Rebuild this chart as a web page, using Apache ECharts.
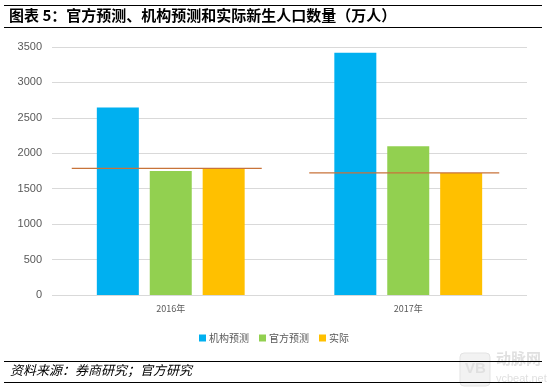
<!DOCTYPE html>
<html><head><meta charset="utf-8">
<script src="https://cdn.jsdelivr.net/npm/echarts@6/dist/echarts.min.js"></script>
<style>html,body{margin:0;padding:0;background:#fff}#c{width:548px;height:391px}</style>
</head><body><div id="c"></div>
<script>
var categories = ['2016年', '2017年'];
var seriesNames = ['机构预测', '官方预测', '实际'];
var institutionForecast = [2645, 3420];
var officialForecast = [1750, 2100];
var actualBirths = [1786, 1723];
var refLine = [1786, 1723];
var yTicks = [0, 500, 1000, 1500, 2000, 2500, 3000, 3500];

var chart = echarts.init(document.getElementById('c'));
var labelColor = '#595959';
chart.setOption({
  animation: false,
  textStyle: {fontFamily: '"Noto Sans CJK SC", "Liberation Sans", sans-serif'},
  grid: {left: 52, right: 21, top: 47, bottom: 96},
  legend: {
    data: seriesNames, left: 'center', top: 328,
    itemWidth: 7, itemHeight: 7, itemGap: 10, icon: 'rect',
    textStyle: {fontSize: 10, color: labelColor, padding: [0, 0, 0, -2]}
  },
  xAxis: {
    type: 'category', data: categories,
    axisLine: {show: false}, axisTick: {show: false},
    axisLabel: {fontSize: 9, color: labelColor, margin: 9}
  },
  yAxis: {
    type: 'value', min: yTicks[0], max: yTicks[yTicks.length - 1], interval: 500,
    axisLine: {show: false}, axisTick: {show: false},
    axisLabel: {fontSize: 11, color: labelColor, margin: 10, fontFamily: '"Liberation Sans", sans-serif',
      formatter: function (v) { return String(v); }},
    splitLine: {lineStyle: {color: '#D9D9D9', width: 1}}
  },
  series: [
    {name: seriesNames[0], type: 'bar', data: institutionForecast, barWidth: 42, barGap: '26%', itemStyle: {color: '#00B0F0'}},
    {name: seriesNames[1], type: 'bar', data: officialForecast, barWidth: 42, itemStyle: {color: '#92D050'}},
    {name: seriesNames[2], type: 'bar', data: actualBirths, barWidth: 42, itemStyle: {color: '#FFC000'}},
    {
      type: 'custom', z: 10,
      data: refLine.map(function (v, i) { return [i, v]; }),
      encode: {x: 0, y: 1},
      renderItem: function (params, api) {
        var p = api.coord([api.value(0), api.value(1)]);
        var bw = api.size([1, 0])[0];
        var half = bw * 0.4;
        return {
          type: 'line',
          shape: {x1: p[0] - half - 4, y1: p[1], x2: p[0] + half - 4, y2: p[1]},
          style: {stroke: '#C8733A', lineWidth: 1.3}
        };
      }
    }
  ],
  graphic: [
    {type: 'line', shape: {x1: 4, y1: 5.5, x2: 542, y2: 5.5}, style: {stroke: '#000', lineWidth: 1}},
    {type: 'text', left: 9, top: 8, style: {text: '图表 5：官方预测、机构预测和实际新生人口数量（万人）', fontSize: 15, fontWeight: 'bold', fill: '#000', fontFamily: '"Noto Sans CJK SC", serif'}},
    {type: 'line', shape: {x1: 4, y1: 27.5, x2: 542, y2: 27.5}, style: {stroke: '#000', lineWidth: 1}},
    {type: 'line', shape: {x1: 4, y1: 361.5, x2: 542, y2: 361.5}, style: {stroke: '#000', lineWidth: 1}},
    {type: 'text', left: 10, top: 364, style: {text: '资料来源：券商研究；官方研究', fontSize: 13, fontStyle: 'italic', fill: '#000', fontFamily: '"Noto Sans CJK SC", sans-serif'}},
    {type: 'line', shape: {x1: 4, y1: 382.5, x2: 542, y2: 382.5}, style: {stroke: '#000', lineWidth: 1}},
    {type: 'rect', z: -1, shape: {x: 460, y: 353, width: 30, height: 33, r: 4}, style: {fill: '#F2F2F2', stroke: '#E3E3E3', lineWidth: 1}},
    {type: 'text', z: -1, left: 465, top: 361, style: {text: 'VB', fontSize: 15, fontWeight: 'bold', fill: '#E0E0E0', fontFamily: '"Liberation Sans", sans-serif'}},
    {type: 'text', z: -1, left: 496, top: 351, style: {text: '动脉网', fontSize: 15, fontWeight: 'bold', fill: '#E0E0E0', fontFamily: '"Noto Sans CJK SC", sans-serif'}},
    {type: 'text', z: -1, left: 496, top: 373, style: {text: 'vcbeat.net', fontSize: 11, fill: '#E0E0E0', fontFamily: '"Liberation Sans", sans-serif'}}
  ]
});
</script></body></html>
